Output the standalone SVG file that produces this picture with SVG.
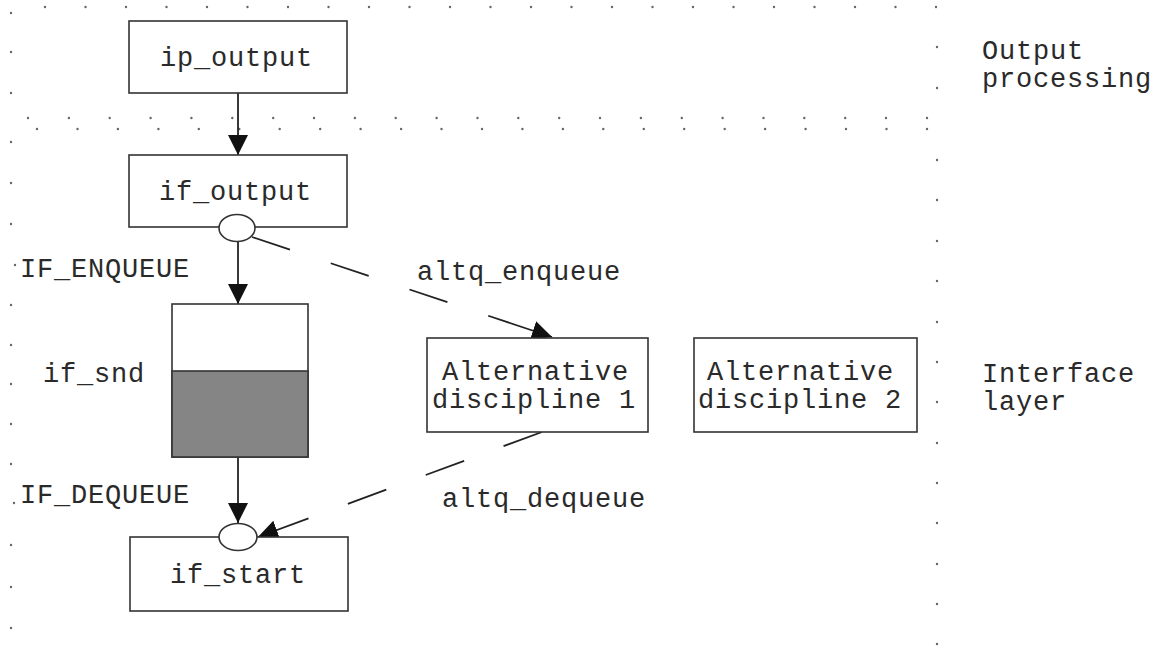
<svg xmlns="http://www.w3.org/2000/svg" width="1157" height="646" viewBox="0 0 1157 646">
<style>
text{font-family:"Liberation Mono","DejaVu Sans Mono",monospace;font-size:27px;letter-spacing:0.8px;fill:#2a2a2a}
.box{fill:#fff;stroke:#333;stroke-width:1.6}
.ln{stroke:#222;stroke-width:1.8;fill:none}
.dot{fill:#666}
</style>
<defs>
<marker id="ah" markerUnits="userSpaceOnUse" markerWidth="22" markerHeight="22" refX="20" refY="10" orient="auto">
<path d="M0,0 L20,10 L0,20 z" fill="#111"/>
</marker>
</defs>
<rect width="1157" height="646" fill="#fff"/>
<g id="dots">
<g id="toprow">
<circle class="dot" cx="45" cy="7" r="1.2"/><circle class="dot" cx="85.5" cy="7" r="1.2"/><circle class="dot" cx="126" cy="7" r="1.2"/><circle class="dot" cx="166.5" cy="7" r="1.2"/><circle class="dot" cx="207" cy="7" r="1.2"/><circle class="dot" cx="247.5" cy="7" r="1.2"/><circle class="dot" cx="288" cy="7" r="1.2"/><circle class="dot" cx="328.5" cy="7" r="1.2"/><circle class="dot" cx="369" cy="7" r="1.2"/><circle class="dot" cx="409.5" cy="7" r="1.2"/><circle class="dot" cx="450" cy="7" r="1.2"/><circle class="dot" cx="490.5" cy="7" r="1.2"/><circle class="dot" cx="531" cy="7" r="1.2"/><circle class="dot" cx="571.5" cy="7" r="1.2"/><circle class="dot" cx="612" cy="7" r="1.2"/><circle class="dot" cx="652.5" cy="7" r="1.2"/><circle class="dot" cx="693" cy="7" r="1.2"/><circle class="dot" cx="733.5" cy="7" r="1.2"/><circle class="dot" cx="774" cy="7" r="1.2"/><circle class="dot" cx="814.5" cy="7" r="1.2"/><circle class="dot" cx="855" cy="7" r="1.2"/><circle class="dot" cx="895.5" cy="7" r="1.2"/><circle class="dot" cx="936" cy="7" r="1.2"/>
</g>
<g id="midrow1">
<circle class="dot" cx="28" cy="118" r="1.2"/><circle class="dot" cx="68.9" cy="118" r="1.2"/><circle class="dot" cx="109.7" cy="118" r="1.2"/><circle class="dot" cx="150.6" cy="118" r="1.2"/><circle class="dot" cx="191.4" cy="118" r="1.2"/><circle class="dot" cx="232.3" cy="118" r="1.2"/><circle class="dot" cx="273.2" cy="118" r="1.2"/><circle class="dot" cx="314" cy="118" r="1.2"/><circle class="dot" cx="354.9" cy="118" r="1.2"/><circle class="dot" cx="395.7" cy="118" r="1.2"/><circle class="dot" cx="436.6" cy="118" r="1.2"/><circle class="dot" cx="477.5" cy="118" r="1.2"/><circle class="dot" cx="518.3" cy="118" r="1.2"/><circle class="dot" cx="559.2" cy="118" r="1.2"/><circle class="dot" cx="600" cy="118" r="1.2"/><circle class="dot" cx="640.9" cy="118" r="1.2"/><circle class="dot" cx="681.8" cy="118" r="1.2"/><circle class="dot" cx="722.6" cy="118" r="1.2"/><circle class="dot" cx="763.5" cy="118" r="1.2"/><circle class="dot" cx="804.3" cy="118" r="1.2"/><circle class="dot" cx="845.2" cy="118" r="1.2"/><circle class="dot" cx="886" cy="118" r="1.2"/><circle class="dot" cx="927" cy="118" r="1.2"/>
</g>
<g id="midrow2">
<circle class="dot" cx="37" cy="129" r="1.2"/><circle class="dot" cx="77.5" cy="129" r="1.2"/><circle class="dot" cx="117.9" cy="129" r="1.2"/><circle class="dot" cx="158.4" cy="129" r="1.2"/><circle class="dot" cx="198.8" cy="129" r="1.2"/><circle class="dot" cx="239.3" cy="129" r="1.2"/><circle class="dot" cx="279.7" cy="129" r="1.2"/><circle class="dot" cx="320.2" cy="129" r="1.2"/><circle class="dot" cx="360.6" cy="129" r="1.2"/><circle class="dot" cx="401.1" cy="129" r="1.2"/><circle class="dot" cx="441.5" cy="129" r="1.2"/><circle class="dot" cx="482" cy="129" r="1.2"/><circle class="dot" cx="522.4" cy="129" r="1.2"/><circle class="dot" cx="562.9" cy="129" r="1.2"/><circle class="dot" cx="603.3" cy="129" r="1.2"/><circle class="dot" cx="643.8" cy="129" r="1.2"/><circle class="dot" cx="684.2" cy="129" r="1.2"/><circle class="dot" cx="724.7" cy="129" r="1.2"/><circle class="dot" cx="765.1" cy="129" r="1.2"/><circle class="dot" cx="805.6" cy="129" r="1.2"/><circle class="dot" cx="846" cy="129" r="1.2"/><circle class="dot" cx="886.5" cy="129" r="1.2"/><circle class="dot" cx="927" cy="129" r="1.2"/>
</g>
<g id="leftcol">
<circle class="dot" cx="11" cy="13" r="1.2"/><circle class="dot" cx="11" cy="52" r="1.2"/><circle class="dot" cx="11" cy="93" r="1.2"/><circle class="dot" cx="11" cy="142" r="1.2"/><circle class="dot" cx="11" cy="183" r="1.2"/><circle class="dot" cx="11" cy="224" r="1.2"/><circle class="dot" cx="15" cy="265" r="1.2"/><circle class="dot" cx="11" cy="305" r="1.2"/><circle class="dot" cx="11" cy="345" r="1.2"/><circle class="dot" cx="11" cy="384" r="1.2"/><circle class="dot" cx="11" cy="424" r="1.2"/><circle class="dot" cx="11" cy="464" r="1.2"/><circle class="dot" cx="14" cy="503" r="1.2"/><circle class="dot" cx="11" cy="545" r="1.2"/><circle class="dot" cx="11" cy="587" r="1.2"/><circle class="dot" cx="11" cy="628" r="1.2"/>
</g>
<g id="rightcol">
<circle class="dot" cx="937" cy="47" r="1.2"/><circle class="dot" cx="937" cy="88" r="1.2"/><circle class="dot" cx="937" cy="160" r="1.2"/><circle class="dot" cx="937" cy="200" r="1.2"/><circle class="dot" cx="937" cy="241" r="1.2"/><circle class="dot" cx="937" cy="281" r="1.2"/><circle class="dot" cx="937" cy="322" r="1.2"/><circle class="dot" cx="937" cy="362" r="1.2"/><circle class="dot" cx="937" cy="402" r="1.2"/><circle class="dot" cx="937" cy="443" r="1.2"/><circle class="dot" cx="937" cy="483" r="1.2"/><circle class="dot" cx="937" cy="523" r="1.2"/><circle class="dot" cx="937" cy="564" r="1.2"/><circle class="dot" cx="937" cy="604" r="1.2"/><circle class="dot" cx="937" cy="644" r="1.2"/>
</g>
</g>
<g id="connectors">
<line class="ln" x1="238" y1="93" x2="238" y2="155" marker-end="url(#ah)"/>
<line class="ln" x1="238" y1="241" x2="238" y2="304" marker-end="url(#ah)"/>
<line class="ln" x1="238" y1="457" x2="238" y2="523" marker-end="url(#ah)"/>
<path class="ln" d="M252,237 L552,337" stroke-dasharray="40 43 40 43 40 43 80" stroke-width="1.6" marker-end="url(#ah)"/>
<path class="ln" d="M542,432 L258,537" stroke-dasharray="41 42 41 42 41 42 80" stroke-width="1.6" marker-end="url(#ah)"/>
</g>
<g id="ip_output">
<rect class="box" x="129" y="21" width="218" height="72"/>
<text x="160" y="66">ip_output</text>
</g>
<g id="if_output">
<rect class="box" x="129" y="155" width="218" height="72"/>
<text x="159" y="200">if_output</text>
<ellipse class="box" cx="237" cy="228" rx="18" ry="13.5"/>
</g>
<g id="if_snd">
<rect class="box" x="172" y="304" width="136" height="153"/>
<rect x="172" y="371" width="136" height="86" fill="#858585" stroke="#333" stroke-width="1.6"/>
<text x="43" y="382">if_snd</text>
</g>
<g id="if_start">
<rect class="box" x="130" y="537" width="218" height="74"/>
<text x="170" y="583">if_start</text>
<ellipse class="box" cx="238" cy="537" rx="19" ry="13.5"/>
</g>
<g id="alt1">
<rect class="box" x="427" y="338" width="221" height="94"/>
<text x="442" y="380">Alternative</text>
<text x="432" y="408">discipline 1</text>
</g>
<g id="alt2">
<rect class="box" x="694" y="338" width="223" height="94"/>
<text x="707" y="380">Alternative</text>
<text x="698" y="408">discipline 2</text>
</g>
<g id="labels">
<text x="20" y="277">IF_ENQUEUE</text>
<text x="20" y="503">IF_DEQUEUE</text>
<text x="417" y="280">altq_enqueue</text>
<text x="442" y="507">altq_dequeue</text>
<text x="982" y="59">Output</text>
<text x="982" y="87">processing</text>
<text x="982" y="382">Interface</text>
<text x="982" y="410">layer</text>
</g>
</svg>
